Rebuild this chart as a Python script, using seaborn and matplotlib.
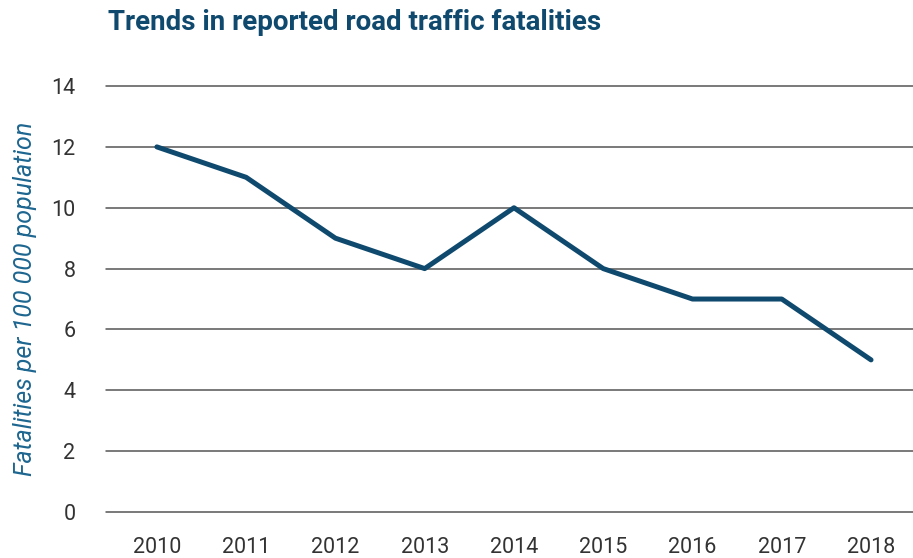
import matplotlib
matplotlib.use("Agg")
import matplotlib.pyplot as plt
import numpy as np
import pandas as pd
import seaborn as sns

years = [2010, 2011, 2012, 2013, 2014, 2015, 2016, 2017, 2018]
fatalities = [12, 11, 9, 8, 10, 8, 7, 7, 5]
y_ticks = [0, 2, 4, 6, 8, 10, 12, 14]

df = pd.DataFrame({"year": years, "rate": fatalities})

sns.set_theme(style="white")
plt.rcParams["font.family"] = ["Roboto", "DejaVu Sans"]

navy = "#0f4a6e"

fig = plt.figure(figsize=(9.13, 5.58), dpi=100)
ax = fig.add_axes([0.1161, 0.0824, 0.8839, 0.7634])

for t in y_ticks:
    ax.axhline(t, color="#555555", lw=1.1, zorder=1, clip_on=False)

sns.lineplot(data=df, x="year", y="rate", ax=ax, color=navy, lw=3.6, zorder=3)

ax.set_xlim(2010 - 0.57, 2018 + 0.47)
ax.set_ylim(0, 14)
ax.set_xticks(years)
ax.set_yticks(y_ticks)
ax.tick_params(axis="both", length=0, labelsize=15.5, colors="#333333")
for lab in ax.get_xticklabels() + ax.get_yticklabels():
    lab.set_fontweight("normal")
ax.tick_params(axis="x", pad=18)
ax.tick_params(axis="y", pad=22)
for s in ax.spines.values():
    s.set_visible(False)
ax.set_xlabel("")
ax.set_ylabel("Fatalities per 100 000 population", fontsize=18, style="italic",
              color="#1d6690", labelpad=10)

fig.text(108 / 913, 1 - 22 / 558, "Trends in reported road traffic fatalities",
         fontsize=20, fontweight="bold", color=navy, va="center", ha="left")

fig.savefig("out.png", dpi=100)
